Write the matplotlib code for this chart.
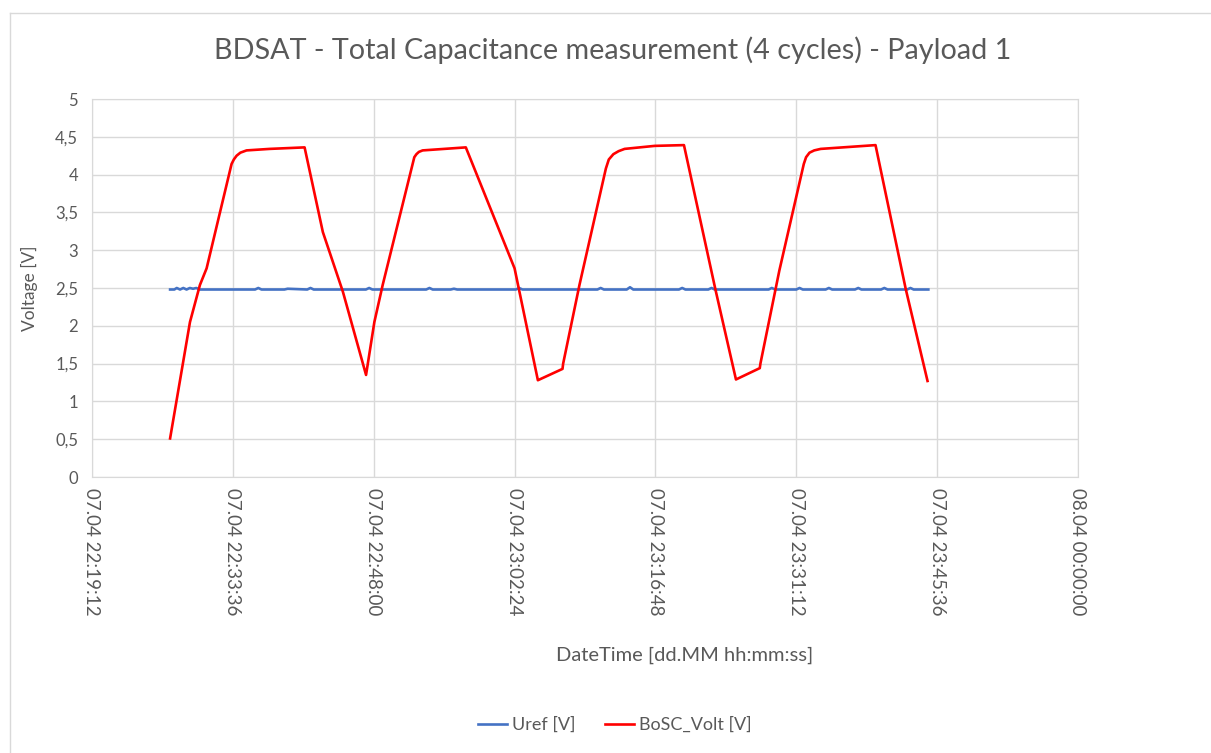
import matplotlib
matplotlib.use("Agg")
import matplotlib.pyplot as plt
import matplotlib.dates as mdates
import numpy as np

plt.rcParams['font.family'] = ['Lato', 'DejaVu Sans']

# seconds after 07.04 22:19:12
start = np.datetime64('2021-04-07T22:19:12')

bosc_t = [479, 540, 601, 662, 703, 785, 856, 870, 887, 910, 948, 1090, 1304,
          1416, 1539, 1681, 1732, 1783, 1977, 1990, 2005, 2028, 2293,
          2592, 2735, 2886, 2890, 2990, 3152, 3170, 3198, 3230, 3267, 3452, 3631,
          3823, 3950, 4096, 4100, 4216, 4366, 4380, 4401, 4430, 4470, 4806,
          4991, 5125]
bosc_v = [0.51, 1.28, 2.05, 2.54, 2.76, 3.50, 4.14, 4.20, 4.25, 4.29, 4.32, 4.34, 4.36,
          3.24, 2.45, 1.35, 2.05, 2.54, 4.23, 4.27, 4.30, 4.32, 4.36,
          2.76, 1.28, 1.43, 1.50, 2.54, 4.08, 4.20, 4.27, 4.31, 4.34, 4.38, 4.39,
          2.49, 1.29, 1.44, 1.50, 2.73, 4.14, 4.23, 4.29, 4.32, 4.34, 4.39,
          2.49, 1.27]

uref_t = [479, 505, 520, 540, 560, 580, 600, 620, 640, 660, 700, 800, 860,
          1000, 1020, 1040, 1180, 1200, 1320, 1340, 1360, 1550, 1680, 1700,
          1720, 1900, 2050, 2070, 2090, 2200, 2220, 2240, 2400, 2600, 2620,
          2640, 3100, 3120, 3140, 3280, 3300, 3320, 3600, 3620, 3640, 3780,
          3800, 3820, 4150, 4170, 4190, 4320, 4340, 4360, 4500, 4520, 4540,
          4680, 4700, 4720, 4840, 4860, 4880, 5000, 5020, 5040, 5130]
uref_v = [2.48, 2.48, 2.50, 2.48, 2.50, 2.48, 2.50, 2.49, 2.50, 2.48, 2.48,
          2.48, 2.48, 2.48, 2.50, 2.48, 2.48, 2.49, 2.48, 2.50, 2.48, 2.48,
          2.48, 2.50, 2.48, 2.48, 2.48, 2.50, 2.48, 2.48, 2.49, 2.48, 2.48,
          2.48, 2.50, 2.48, 2.48, 2.50, 2.48, 2.48, 2.51, 2.48, 2.48, 2.50,
          2.48, 2.48, 2.50, 2.48, 2.48, 2.50, 2.48, 2.48, 2.50, 2.48, 2.48,
          2.50, 2.48, 2.48, 2.50, 2.48, 2.48, 2.50, 2.48, 2.48, 2.50, 2.48,
          2.48]

bosc_x = start + np.array(bosc_t).astype('timedelta64[s]')
uref_x = start + np.array(uref_t).astype('timedelta64[s]')

grey = '#595959'
grid = '#D9D9D9'

fig = plt.figure(figsize=(12.11, 7.53), dpi=100)
ax = fig.add_axes([92 / 1211, 1 - 477 / 753, 986 / 1211, 378 / 753])

ax.plot(uref_x, uref_v, color='#4472C4', lw=1.9, label='Uref [V]')
ax.plot(bosc_x, bosc_v, color='#FF0000', lw=1.9, label='BoSC_Volt [V]')

ticks = start + (np.arange(8) * 864).astype('timedelta64[s]')
ax.set_xlim(ticks[0], ticks[-1])
ax.set_xticks(ticks)
ax.xaxis.set_major_formatter(mdates.DateFormatter('%d.%m %H:%M:%S'))
ax.set_ylim(0, 5)
ax.set_yticks(np.arange(0, 5.01, 0.5))
ax.set_yticklabels([f'{v:g}'.replace('.', ',') for v in np.arange(0, 5.01, 0.5)])

ax.grid(True, color=grid, lw=1)
ax.set_axisbelow(True)
for s in ax.spines.values():
    s.set_color(grid)
ax.tick_params(length=0, colors=grey, labelsize=12)
for lbl in ax.get_xticklabels():
    lbl.set_rotation(270)
ax.tick_params(axis='x', pad=8, labelsize=13.5)
ax.tick_params(axis='y', pad=10)

ax.set_ylabel('Voltage [V]', color=grey, fontsize=12.5, labelpad=12)
fig.text(685 / 1211, 1 - 655 / 753, 'DateTime [dd.MM hh:mm:ss]', color=grey,
         fontsize=14.5, ha='center', va='center')
fig.text(613 / 1211, 1 - 50 / 753,
         'BDSAT - Total Capacitance measurement (4 cycles) - Payload 1',
         color=grey, fontsize=20.7, ha='center', va='center')

fig.legend(loc='center', bbox_to_anchor=(615 / 1211, 1 - 725 / 753), ncol=2,
           frameon=False, fontsize=13, labelcolor=grey, handlelength=1.6,
           columnspacing=1.6, handletextpad=0.3)

# outer chart border
fig.add_artist(plt.Line2D([10 / 1211, 1], [1 - 13 / 753, 1 - 13 / 753],
                          transform=fig.transFigure, color=grid, lw=1))
fig.add_artist(plt.Line2D([10 / 1211, 10 / 1211], [0, 1 - 13 / 753],
                          transform=fig.transFigure, color=grid, lw=1))

fig.savefig('out.png', dpi=100)
